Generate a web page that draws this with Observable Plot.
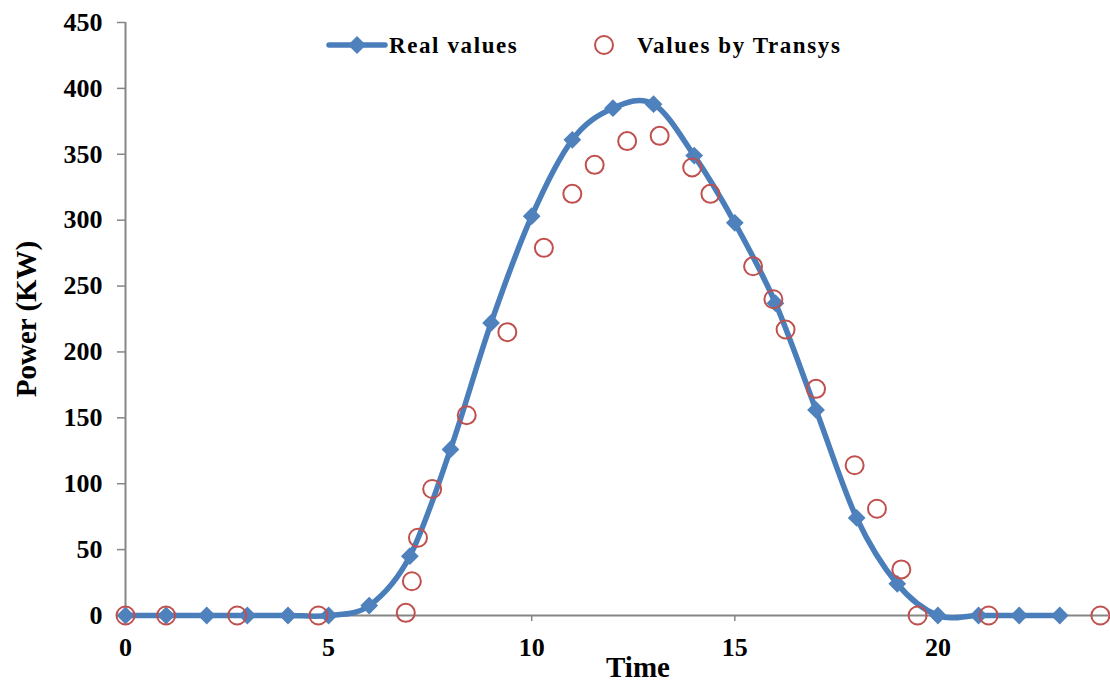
<!DOCTYPE html>
<html>
<head>
<meta charset="utf-8">
<script src="https://cdn.jsdelivr.net/npm/d3@7"></script>
<script src="https://cdn.jsdelivr.net/npm/@observablehq/plot@0.6"></script>
<style>
  html, body { margin: 0; padding: 0; background: #fff; }
  #wrap { position: relative; width: 1110px; height: 682px; font-family: "Liberation Serif", "Times New Roman", serif; }
  #legend { position: absolute; left: 0; top: 0; }
</style>
</head>
<body>
<div id="wrap">
  <div id="chart"></div>
  <svg id="legend" width="1110" height="70"></svg>
</div>
<script>
// Real values (hourly)
const hours = [0,1,2,3,4,5,6,7,8,9,10,11,12,13,14,15,16,17,18,19,20,21,22,23];
const realPower = [0,0,0,0,0,0,7.5,45,126,222,303,361,385,388,349,298,237,156,74,24,0,0,0,0];

// Values by Transys
const transysTime = [0,1,2.75,4.75,6.9,7.05,7.2,7.55,8.4,9.4,10.3,11,11.55,12.35,13.15,13.95,14.4,15.45,15.95,16.25,17,17.95,18.5,19.1,19.5,21.25,24];
const transysPower = [0,0,0,0,2,26,59,96,152,215,279,320,342,360,364,340,320,265,240,217,172,114,81,35,0,0,0];

const xTicks = [0,5,10,15,20];
const yTicks = [0,50,100,150,200,250,300,350,400,450];
const seriesNames = ["Real values", "Values by Transys"];
const blue = "#4A7EBB";
const markerBlue = "#4F81BD";
const red = "#C0504D";
const axisGray = "#868686";

const real = hours.map((t, i) => ({t, p: realPower[i]}));
const transys = transysTime.map((t, i) => ({t, p: transysPower[i]}));

const chart = Plot.plot({
  width: 1110,
  height: 682,
  marginLeft: 125,
  marginRight: 2,
  marginTop: 22,
  marginBottom: 67,
  style: {fontFamily: "'Liberation Serif', 'Times New Roman', serif", fontWeight: "bold", fontSize: "26px", color: "#000", background: "#fff"},
  x: {domain: [0, 24.2], ticks: xTicks},
  y: {domain: [0, 450], ticks: yTicks},
  marks: [
    Plot.axisY({ticks: yTicks, tickSize: 8, tickPadding: 15, label: null, stroke: axisGray, strokeWidth: 1.5, fontSize: 26, fontWeight: "bold"}),
    Plot.axisX({ticks: xTicks, tickSize: 6, tickPadding: 16, label: null, stroke: axisGray, strokeWidth: 1.5, fontSize: 26, fontWeight: "bold"}),
    Plot.ruleX([0], {stroke: axisGray, strokeWidth: 2}),
    Plot.ruleY([0], {stroke: axisGray, strokeWidth: 2}),
    Plot.text(["Power (KW)"], {frameAnchor: "left", textAnchor: "middle", rotate: -90, dx: -99, fontSize: 29, fontWeight: "bold", fill: "#000"}),
    Plot.text(["Time"], {frameAnchor: "bottom", textAnchor: "middle", dx: 21, dy: 61, fontSize: 29, fontWeight: "bold", fill: "#000"}),
    Plot.line(real, {x: "t", y: "p", stroke: blue, strokeWidth: 5.5, curve: "cardinal"}),
    Plot.dot(real, {x: "t", y: "p", symbol: "diamond2", r: 8, fill: markerBlue, stroke: "none"}),
    Plot.dot(transys, {x: "t", y: "p", symbol: "circle", r: 9, fill: "none", stroke: red, strokeWidth: 2})
  ]
});
document.getElementById("chart").appendChild(chart);

// Legend inside the plot area, at the top
const lg = d3.select("#legend");
lg.append("line").attr("x1", 329).attr("x2", 385).attr("y1", 45).attr("y2", 45)
  .attr("stroke", blue).attr("stroke-width", 5.5).attr("stroke-linecap", "round");
lg.append("path").attr("d", "M357,36 L366,45 L357,54 L348,45 Z").attr("fill", markerBlue);
lg.append("text").attr("x", 389).attr("y", 53).text(seriesNames[0]);
lg.append("circle").attr("cx", 604).attr("cy", 45).attr("r", 9)
  .attr("fill", "none").attr("stroke", red).attr("stroke-width", 2);
lg.append("text").attr("x", 637).attr("y", 53).text(seriesNames[1]);
lg.selectAll("text")
  .attr("font-family", "'Liberation Serif', 'Times New Roman', serif")
  .attr("font-weight", "bold").attr("font-size", 23).attr("letter-spacing", 1.6).attr("fill", "#000");
</script>
</body>
</html>
